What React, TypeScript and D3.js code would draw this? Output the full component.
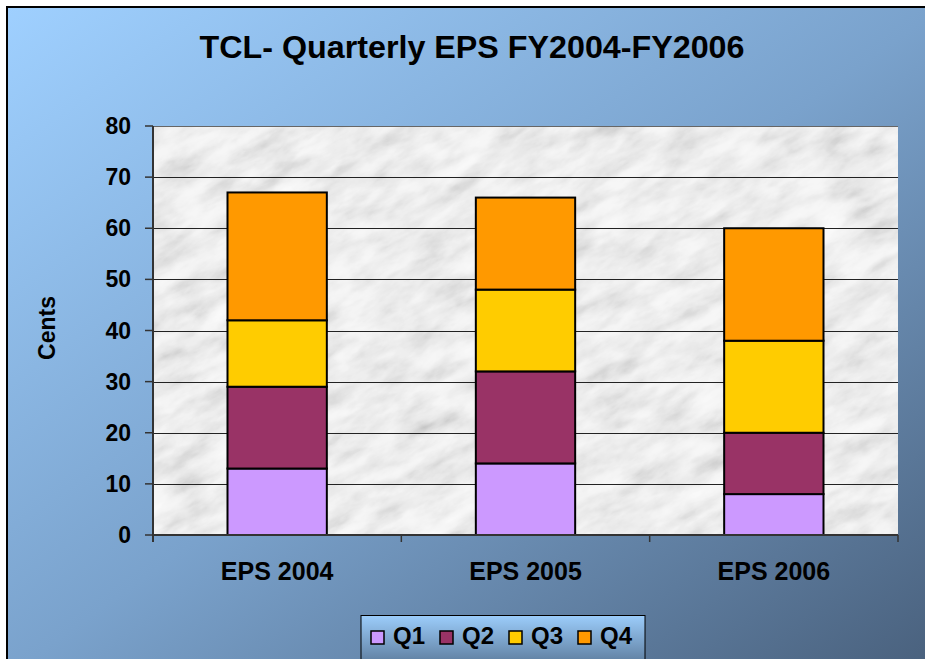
import React, { useEffect, useRef } from "react";
import * as d3 from "d3";

const categories = ["EPS 2004", "EPS 2005", "EPS 2006"];
const quarters = ["Q1", "Q2", "Q3", "Q4"];
const q1 = [13, 14, 8];
const q2 = [16, 18, 12];
const q3 = [13, 16, 18];
const q4 = [25, 18, 22];
const yTicks = [0, 10, 20, 30, 40, 50, 60, 70, 80];
const colors = ["#cc99ff", "#993366", "#ffcc00", "#ff9900"];

const W = 925;
const H = 659;
const FONT = "'Liberation Sans', Arial, sans-serif";

const App: React.FC = () => {
  const svgRef = useRef<any>();

  useEffect(() => {
    document.body.style.margin = "0";
    document.body.style.overflow = "hidden";

    const svg = d3.select(svgRef.current);
    svg.selectAll("*").remove();
    svg.attr("width", W).attr("height", H).style("display", "block");

    const plot = { left: 153, right: 898, top: 126, bottom: 535 };

    const defs = svg.append("defs");
    const bg = defs
      .append("linearGradient")
      .attr("id", "bg")
      .attr("x1", 0)
      .attr("y1", 0)
      .attr("x2", 1)
      .attr("y2", 1);
    bg.append("stop").attr("offset", 0).attr("stop-color", "#9fd0ff");
    bg.append("stop").attr("offset", 0.5).attr("stop-color", "#7aa2cc");
    bg.append("stop").attr("offset", 1).attr("stop-color", "#485f7b");

    const lg = defs
      .append("linearGradient")
      .attr("id", "lg")
      .attr("x1", 0)
      .attr("y1", 0)
      .attr("x2", 0)
      .attr("y2", 1);
    lg.append("stop").attr("offset", 0).attr("stop-color", "#9ccdfb");
    lg.append("stop").attr("offset", 1).attr("stop-color", "#4f6a88");

    // marble-ish texture for the plot area
    const f = defs
      .append("filter")
      .attr("id", "marble")
      .attr("x", 0)
      .attr("y", 0)
      .attr("width", 1)
      .attr("height", 1);
    f.append("feTurbulence")
      .attr("type", "fractalNoise")
      .attr("baseFrequency", "0.022 0.055")
      .attr("numOctaves", 5)
      .attr("seed", 11)
      .attr("result", "n");
    f.append("feColorMatrix")
      .attr("in", "n")
      .attr("type", "matrix")
      .attr(
        "values",
        "0.33 0.33 0.33 0 0  0.33 0.33 0.33 0 0  0.33 0.33 0.33 0 0  0 0 0 0 1"
      )
      .attr("result", "g");
    const ct = f.append("feComponentTransfer").attr("in", "g");
    ["feFuncR", "feFuncG", "feFuncB"].forEach((fn) =>
      ct
        .append(fn)
        .attr("type", "table")
        .attr("tableValues", "0.35 0.5 0.66 0.8 0.9 0.95 0.97 0.98")
    );
    defs
      .append("clipPath")
      .attr("id", "pc")
      .append("rect")
      .attr("x", plot.left)
      .attr("y", plot.top)
      .attr("width", plot.right - plot.left)
      .attr("height", plot.bottom - plot.top);

    // chart frame
    svg
      .append("rect")
      .attr("x", 7)
      .attr("y", 7)
      .attr("width", W + 10)
      .attr("height", H + 10)
      .attr("fill", "url(#bg)")
      .attr("stroke", "#000")
      .attr("stroke-width", 2);

    svg
      .append("text")
      .attr("x", 472)
      .attr("y", 58)
      .attr("text-anchor", "middle")
      .attr("font-family", FONT)
      .attr("font-weight", "bold")
      .attr("font-size", 32)
      .attr("textLength", 545)
      .attr("lengthAdjust", "spacingAndGlyphs")
      .text("TCL- Quarterly EPS FY2004-FY2006");

    const x = d3
      .scaleBand()
      .domain(categories)
      .range([plot.left, plot.right])
      .paddingInner(0.6)
      .paddingOuter(0.3);
    const step = x.step();
    const y = d3.scaleLinear().domain([0, 80]).range([plot.bottom, plot.top]);

    const pg = svg.append("g").attr("clip-path", "url(#pc)");
    pg.append("rect")
      .attr("x", plot.left - 200)
      .attr("y", plot.top - 300)
      .attr("width", 1200)
      .attr("height", 1000)
      .attr("filter", "url(#marble)")
      .attr(
        "transform",
        `rotate(-28 ${(plot.left + plot.right) / 2} ${(plot.top + plot.bottom) / 2})`
      );

    // gridlines
    svg
      .append("g")
      .selectAll("line")
      .data(yTicks.slice(1))
      .join("line")
      .attr("x1", plot.left)
      .attr("x2", plot.right)
      .attr("y1", (d) => Math.round(y(d)) + 0.5)
      .attr("y2", (d) => Math.round(y(d)) + 0.5)
      .attr("stroke", (d) => (d === 80 ? "#666" : "#222"))
      .attr("stroke-width", 1);

    // stacked bars
    const table = categories.map((c, i) => ({
      cat: c,
      Q1: q1[i],
      Q2: q2[i],
      Q3: q3[i],
      Q4: q4[i],
    }));
    const series = d3.stack<any>().keys(quarters)(table);
    svg
      .append("g")
      .selectAll("g")
      .data(series)
      .join("g")
      .attr("fill", (_, i) => colors[i])
      .selectAll("rect")
      .data((s) => s)
      .join("rect")
      .attr("x", (d: any) => x(d.data.cat)!)
      .attr("width", x.bandwidth())
      .attr("y", (d) => y(d[1]))
      .attr("height", (d) => y(d[0]) - y(d[1]))
      .attr("stroke", "#000")
      .attr("stroke-width", 2);

    // axes
    const ax = svg.append("g").attr("stroke", "#333").attr("stroke-width", 2);
    ax.append("line")
      .attr("x1", plot.left)
      .attr("x2", plot.left)
      .attr("y1", plot.top)
      .attr("y2", plot.bottom + 7);
    ax.append("line")
      .attr("x1", plot.left)
      .attr("x2", plot.right)
      .attr("y1", plot.bottom)
      .attr("y2", plot.bottom);
    ax.selectAll(".yt")
      .data(yTicks)
      .join("line")
      .attr("stroke-width", 1.5)
      .attr("x1", plot.left - 8)
      .attr("x2", plot.left)
      .attr("y1", (d) => y(d))
      .attr("y2", (d) => y(d));
    ax.selectAll(".xt")
      .data(categories)
      .join("line")
      .attr("stroke-width", 1.5)
      .attr("x1", (d) => x(d)! - (step - x.bandwidth()) / 2 + step)
      .attr("x2", (d) => x(d)! - (step - x.bandwidth()) / 2 + step)
      .attr("y1", plot.bottom)
      .attr("y2", plot.bottom + 7);

    svg
      .append("g")
      .attr("font-family", FONT)
      .attr("font-weight", "bold")
      .attr("font-size", 23)
      .attr("text-anchor", "end")
      .selectAll("text")
      .data(yTicks)
      .join("text")
      .attr("x", 131)
      .attr("y", (d) => y(d))
      .attr("dy", "0.35em")
      .text((d) => d);

    svg
      .append("g")
      .attr("font-family", FONT)
      .attr("font-weight", "bold")
      .attr("font-size", 25)
      .attr("text-anchor", "middle")
      .selectAll("text")
      .data(categories)
      .join("text")
      .attr("x", (d) => x(d)! + x.bandwidth() / 2)
      .attr("y", 580)
      .text((d) => d);

    svg
      .append("text")
      .attr("transform", "translate(55,328) rotate(-90)")
      .attr("text-anchor", "middle")
      .attr("font-family", FONT)
      .attr("font-weight", "bold")
      .attr("font-size", 23)
      .text("Cents");

    // legend
    const leg = svg.append("g");
    leg
      .append("rect")
      .attr("x", 361)
      .attr("y", 615.5)
      .attr("width", 284)
      .attr("height", 60)
      .attr("fill", "url(#lg)")
      .attr("stroke", "#000")
      .attr("stroke-width", 1);
    const items = leg
      .selectAll("g")
      .data(quarters)
      .join("g")
      .attr("transform", (_, i) => `translate(${371 + i * 69},0)`);
    items
      .append("rect")
      .attr("x", 0)
      .attr("y", 631)
      .attr("width", 13)
      .attr("height", 13)
      .attr("fill", (_, i) => colors[i])
      .attr("stroke", "#000")
      .attr("stroke-width", 1.5);
    items
      .append("text")
      .attr("x", 22)
      .attr("y", 644)
      .attr("font-family", FONT)
      .attr("font-weight", "bold")
      .attr("font-size", 24)
      .text((d) => d);
  }, []);

  return <svg ref={svgRef}></svg>;
};

export default App;
